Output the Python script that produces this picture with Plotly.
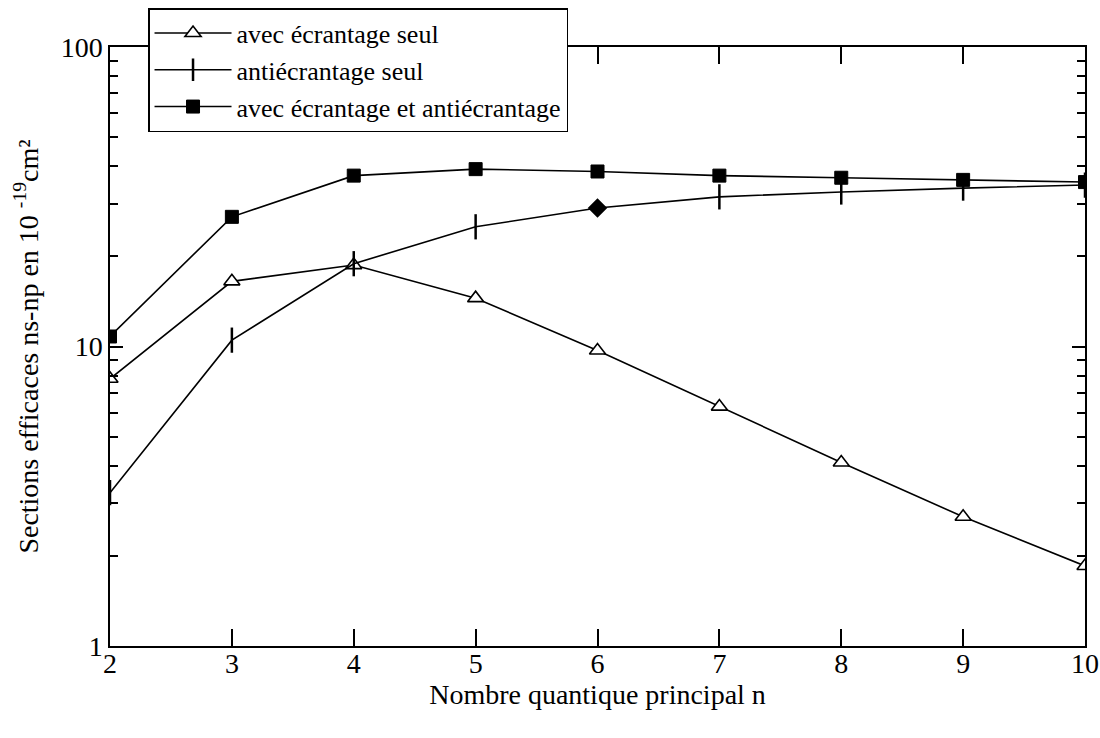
import plotly.graph_objects as go

n_values = [2, 3, 4, 5, 6, 7, 8, 9, 10]
ecrantage_seul = [7.8, 16.5, 18.7, 14.5, 9.7, 6.3, 4.1, 2.7, 1.85]
antiecrantage_seul = [3.25, 10.5, 18.9, 25.1, 29.0, 31.6, 32.8, 33.8, 34.6]
ecrantage_et_anti = [10.8, 27.1, 37.2, 39.1, 38.4, 37.2, 36.6, 36.0, 35.4]

names = ["avec écrantage seul", "antiécrantage seul", "avec écrantage et antiécrantage"]
y_ticks = [1, 10, 100]
y_minor = [2, 3, 4, 5, 6, 7, 8, 9, 20, 30, 40, 50, 60, 70, 80, 90]
diamond_index = 4  # the n=6 point of "antiécrantage seul" is drawn as a diamond

FONT = "Liberation Serif"

fig = go.Figure()
fig.add_trace(go.Scatter(
    x=n_values, y=ecrantage_seul, name=names[0], mode="lines+markers",
    line=dict(color="black", width=1.6),
    marker=dict(symbol="triangle-up", size=14, color="white",
                line=dict(color="black", width=1.6)),
))
anti_x = [v for i, v in enumerate(n_values) if i != diamond_index]
anti_y = [v for i, v in enumerate(antiecrantage_seul) if i != diamond_index]
fig.add_trace(go.Scatter(
    x=n_values, y=antiecrantage_seul, name=names[1], mode="lines",
    line=dict(color="black", width=1.6), legendgroup="anti",
    showlegend=False,
))
fig.add_trace(go.Scatter(
    x=anti_x, y=anti_y, name=names[1], mode="markers", legendgroup="anti",
    marker=dict(symbol="line-ns", size=18, color="black",
                line=dict(color="black", width=2.5)),
    showlegend=False,
))
fig.add_trace(go.Scatter(
    x=[n_values[diamond_index]], y=[antiecrantage_seul[diamond_index]],
    mode="markers", showlegend=False, legendgroup="anti",
    marker=dict(symbol="diamond", size=15, color="black",
                line=dict(color="black", width=0)),
))
# legend entry for the second series (line with vertical tick)
fig.add_trace(go.Scatter(
    x=[None], y=[None], name=names[1], mode="lines+markers", legendgroup="anti",
    line=dict(color="black", width=1.6),
    marker=dict(symbol="line-ns", size=18, color="black",
                line=dict(color="black", width=2.5)),
))
fig.add_trace(go.Scatter(
    x=n_values, y=ecrantage_et_anti, name=names[2], mode="lines+markers",
    line=dict(color="black", width=1.6),
    marker=dict(symbol="square", size=13, color="black",
                line=dict(color="black", width=1)),
))

fig.update_layout(
    width=1100, height=738,
    margin=dict(l=110, r=15, t=47, b=92, autoexpand=False),
    paper_bgcolor="white", plot_bgcolor="white",
    font=dict(family=FONT, size=28, color="black"),
    showlegend=True,
    legend=dict(
        x=0.039, y=1.065, xanchor="left", yanchor="top",
        bgcolor="white", bordercolor="black", borderwidth=1.5,
        font=dict(family=FONT, size=26, color="black"),
        itemwidth=77, traceorder="normal",
    ),
    xaxis=dict(
        range=[2, 10], tickvals=n_values, ticks="inside", ticklen=17,
        tickwidth=1.5, tickcolor="black", automargin=False,
        showline=True, linecolor="black", linewidth=1.5, mirror="ticks",
        showgrid=False, zeroline=False, ticklabelstandoff=-8,
        title=dict(text="Nombre quantique principal n", standoff=6,
                   font=dict(family=FONT, size=28)),
        tickfont=dict(family=FONT, size=28),
    ),
    yaxis=dict(
        type="log", range=[0, 2], tickvals=y_ticks, ticktext=["1", "10", "100"],
        ticks="inside", ticklen=13, tickwidth=1.5, tickcolor="black", automargin=False,
        showline=True, linecolor="black", linewidth=1.5, mirror="ticks",
        showgrid=False, zeroline=False,
        minor=dict(tickvals=y_minor, ticks="inside", ticklen=8,
                   tickwidth=1.5, tickcolor="black", showgrid=False),
        title=dict(text="Sections efficaces ns-np en 10 <sup>-19</sup>cm²", standoff=14,
                   font=dict(family=FONT, size=28)),
        tickfont=dict(family=FONT, size=28),
    ),
)

fig.write_html(
    "out.html",
    config={"displayModeBar": False},
    post_script="document.body.style.margin='0';document.body.style.overflow='hidden';",
)
